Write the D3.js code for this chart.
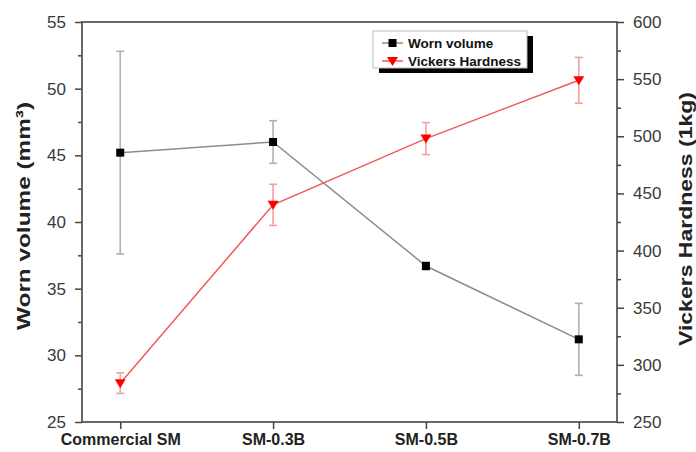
<!DOCTYPE html>
<html>
<head>
<meta charset="utf-8">
<script src="https://cdn.jsdelivr.net/npm/d3@7"></script>
<style>
  html, body { margin: 0; padding: 0; background: #fff; }
  svg { display: block; font-family: "Liberation Sans", Arial, sans-serif; }
</style>
</head>
<body>
<svg id="chart" width="696" height="452"></svg>
<script>
// Samples along the x axis
const categories = ["Commercial SM", "SM-0.3B", "SM-0.5B", "SM-0.7B"];
// Worn volume (mm³) with standard deviation
const wornVolume = [45.2, 46.0, 36.7, 31.2];
const wornErr = [7.6, 1.6, 0.3, 2.7];
// Vickers hardness (HV1) with standard deviation
const hardness = [284, 440, 498, 549];
const hardnessErr = [9, 18, 14, 20];
// Axis ticks
const leftTicks = [25, 30, 35, 40, 45, 50, 55];
const rightTicks = [250, 300, 350, 400, 450, 500, 550, 600];

const svg = d3.select("#chart");
const m = { left: 82, right: 617, top: 22, bottom: 422 };

const x = d3.scalePoint().domain(categories).range([m.left, m.right]).padding(0.25);
const yL = d3.scaleLinear().domain([25, 55]).range([m.bottom, m.top]);
const yR = d3.scaleLinear().domain([250, 600]).range([m.bottom, m.top]);

const axisColor = "#444";
const labelColor = "#3a3a3a";

// Frame around the plot area
svg.append("rect")
  .attr("x", m.left).attr("y", m.top)
  .attr("width", m.right - m.left).attr("height", m.bottom - m.top)
  .attr("fill", "none").attr("stroke", axisColor).attr("stroke-width", 1.6);

function styleAxis(g) {
  g.select(".domain").remove();
  g.selectAll(".tick line").attr("stroke", axisColor).attr("stroke-width", 1.5);
  g.selectAll(".tick text").attr("fill", labelColor).attr("font-size", 17);
}

// Left axis with minor ticks
const minorL = d3.range(27.5, 55, 5);
svg.append("g").attr("transform", `translate(${m.left},0)`)
  .call(d3.axisLeft(yL).tickValues(minorL).tickSize(4).tickFormat(""))
  .call(styleAxis);
svg.append("g").attr("transform", `translate(${m.left},0)`)
  .call(d3.axisLeft(yL).tickValues(leftTicks).tickSize(7).tickPadding(9).tickFormat(d3.format("d")))
  .call(styleAxis);

// Right axis with minor ticks
const minorR = d3.range(275, 600, 50);
svg.append("g").attr("transform", `translate(${m.right},0)`)
  .call(d3.axisRight(yR).tickValues(minorR).tickSize(4).tickFormat(""))
  .call(styleAxis);
svg.append("g").attr("transform", `translate(${m.right},0)`)
  .call(d3.axisRight(yR).tickValues(rightTicks).tickSize(7).tickPadding(9).tickFormat(d3.format("d")))
  .call(styleAxis);

// Bottom category axis
svg.append("g").attr("transform", `translate(0,${m.bottom})`)
  .call(d3.axisBottom(x).tickSize(7).tickPadding(5))
  .call(styleAxis)
  .selectAll(".tick text").attr("font-weight", "bold").attr("font-size", 16).attr("fill", "#222");

// Axis titles
svg.append("text")
  .attr("transform", `translate(23,216) rotate(-90)`)
  .attr("text-anchor", "middle").attr("dominant-baseline", "central")
  .attr("font-weight", "bold").attr("font-size", 18.5).attr("fill", "#222")
  .attr("textLength", 228).attr("lengthAdjust", "spacingAndGlyphs")
  .text("Worn volume (mm³)");
svg.append("text")
  .attr("transform", `translate(685,219) rotate(-90)`)
  .attr("text-anchor", "middle").attr("dominant-baseline", "central")
  .attr("font-weight", "bold").attr("font-size", 18.5).attr("fill", "#222")
  .attr("textLength", 254).attr("lengthAdjust", "spacingAndGlyphs")
  .text("Vickers Hardness (1kg)");

// Draws one series: error bars, connecting line, markers
function drawSeries(values, errs, y, opts) {
  const g = svg.append("g");
  const pts = categories.map((c, i) => ({ c, v: values[i], e: errs[i] }));
  const cap = 4;
  const eb = g.selectAll(".eb").data(pts).join("g");
  eb.append("line")
    .attr("x1", d => x(d.c)).attr("x2", d => x(d.c))
    .attr("y1", d => y(d.v - d.e)).attr("y2", d => y(d.v + d.e))
    .attr("stroke", opts.errColor).attr("stroke-width", 1.6);
  [-1, 1].forEach(s => {
    eb.append("line")
      .attr("x1", d => x(d.c) - cap).attr("x2", d => x(d.c) + cap)
      .attr("y1", d => y(d.v + s * d.e)).attr("y2", d => y(d.v + s * d.e))
      .attr("stroke", opts.errColor).attr("stroke-width", 1.6);
  });
  g.append("path")
    .datum(pts)
    .attr("fill", "none").attr("stroke", opts.lineColor).attr("stroke-width", 1.5)
    .attr("d", d3.line().x(d => x(d.c)).y(d => y(d.v)));
  g.selectAll(".mk").data(pts).join("path")
    .attr("transform", d => `translate(${x(d.c)},${y(d.v)})`)
    .attr("d", opts.marker)
    .attr("fill", opts.markColor);
}

const squarePath = "M-4,-4H4V4H-4Z";
const trianglePath = "M-5.5,-4H5.5L0,5Z";

drawSeries(wornVolume, wornErr, yL, {
  errColor: "#b0b0b0", lineColor: "#8c8c8c", markColor: "#000", marker: squarePath
});
drawSeries(hardness, hardnessErr, yR, {
  errColor: "#f4a0a0", lineColor: "#f25a5a", markColor: "#ff0000", marker: trianglePath
});

// Legend with drop shadow
const lg = svg.append("g").attr("transform", "translate(373,31)");
const lw = 154, lh = 37;
lg.append("rect").attr("x", 6).attr("y", 5).attr("width", lw).attr("height", lh).attr("fill", "#000");
lg.append("rect").attr("x", 0).attr("y", 0).attr("width", lw).attr("height", lh)
  .attr("fill", "#fff").attr("stroke", "#bbb").attr("stroke-width", 1);
const entries = [
  { name: "Worn volume", line: "#8c8c8c", mark: "#000", path: squarePath },
  { name: "Vickers Hardness", line: "#f25a5a", mark: "#ff0000", path: trianglePath }
];
entries.forEach((e, i) => {
  const yy = 12 + i * 18;
  lg.append("line").attr("x1", 9).attr("x2", 30).attr("y1", yy).attr("y2", yy)
    .attr("stroke", e.line).attr("stroke-width", 1.5);
  lg.append("path").attr("transform", `translate(19.5,${yy})`).attr("d", e.path).attr("fill", e.mark);
  lg.append("text").attr("x", 35).attr("y", yy).attr("dominant-baseline", "central")
    .attr("font-weight", "bold").attr("font-size", 13.5).attr("fill", "#111").text(e.name);
});
</script>
</body>
</html>
